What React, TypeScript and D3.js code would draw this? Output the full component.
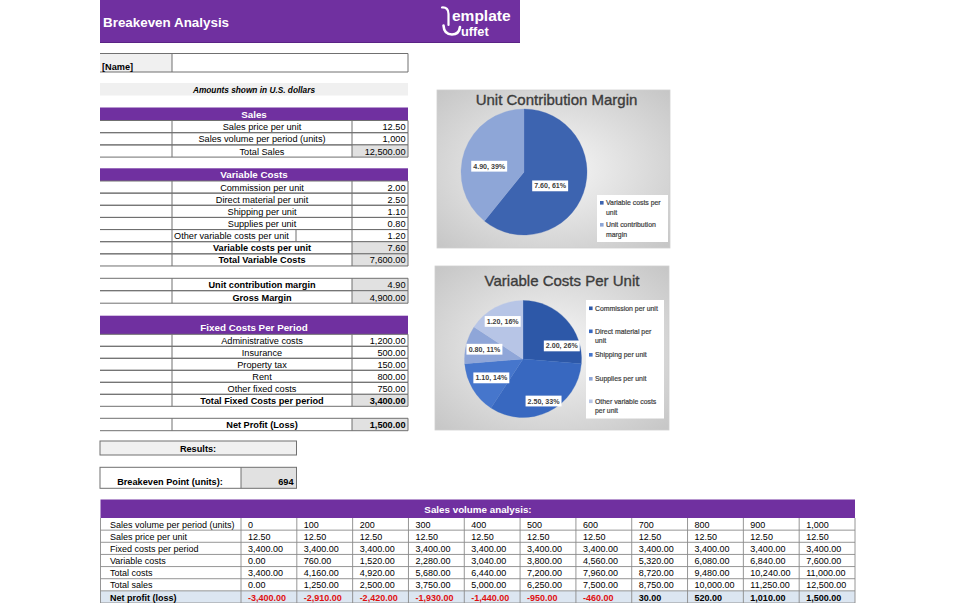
import React from "react";
import * as d3 from "d3";

// ---------- data ----------
const titleText = "Breakeven Analysis";
const salesLabels = ["Sales price per unit", "Sales volume per period (units)", "Total Sales"];
const salesPrice = 12.5;
const salesVolume = 1000;
const variableLabels = [
  "Commission per unit",
  "Direct material per unit",
  "Shipping per unit",
  "Supplies per unit",
  "Other variable costs per unit",
];
const variableValues = [2.0, 2.5, 1.1, 0.8, 1.2];
const fixedLabels = ["Administrative costs", "Insurance", "Property tax", "Rent", "Other fixed costs"];
const fixedValues = [1200, 500, 150, 800, 750];
const volumeSteps = [0, 100, 200, 300, 400, 500, 600, 700, 800, 900, 1000];
const analysisLabels = [
  "Sales volume per period (units)",
  "Sales price per unit",
  "Fixed costs per period",
  "Variable costs",
  "Total costs",
  "Total sales",
  "Net profit (loss)",
];
const marginLegendLines = [["Variable costs per", "unit"], ["Unit contribution", "margin"]];
const costLegendLines = [
  ["Commission per unit"],
  ["Direct material per", "unit"],
  ["Shipping per unit"],
  ["Supplies per unit"],
  ["Other variable costs", "per unit"],
];

// ---------- formatting / derived ----------
const loc = d3.formatLocale({ decimal: ".", thousands: ",", grouping: [3], currency: ["$", ""], minus: "-" });
const f2 = loc.format(",.2f");
const f0 = loc.format(",.0f");

const varPerUnit = d3.sum(variableValues);
const totalSales = salesPrice * salesVolume;
const totalVar = varPerUnit * salesVolume;
const ucm = salesPrice - varPerUnit;
const gross = ucm * salesVolume;
const totalFixed = d3.sum(fixedValues);
const netProfit = gross - totalFixed;
const breakeven = totalFixed / ucm;

// ---------- style ----------
const FONT = "'Liberation Sans', Arial, sans-serif";
const CFONT = "'Liberation Sans', Arial, sans-serif";
const PURPLE = "#7030a0";
const LINE = "#707070";
const GREY = "#e1e1e1";
const C0 = 100, C1 = 172, C2 = 352, C3 = 408;
const FS = 9.2;

function TableRow(p: any) {
  const { y, h, label, value, boldLabel, boldValue, grey, leftAlign, divider } = p;
  return (
    <g>
      {grey && <rect x={C2} y={y} width={C3 - C2} height={h} fill={GREY} />}
      <line x1={C0} x2={C3} y1={y} y2={y} stroke={LINE} strokeWidth={1} />
      <line x1={C0} x2={C3} y1={y + h} y2={y + h} stroke={LINE} strokeWidth={1} />
      {[C1, C2, C3].map((x) => (
        <line key={x} x1={x} x2={x} y1={y} y2={y + h} stroke={LINE} strokeWidth={1} />
      ))}
      {divider && <line x1={divider} x2={divider} y1={y} y2={y + h} stroke={LINE} strokeWidth={1} />}
      <text
        x={leftAlign ? C1 + 2 : (C1 + C2) / 2}
        y={y + h - 2.6}
        textAnchor={leftAlign ? "start" : "middle"}
        fontSize={FS}
        fontWeight={boldLabel ? "bold" : "normal"}
        fill="#000"
      >
        {label}
      </text>
      <text x={C3 - 2.5} y={y + h - 2.6} textAnchor="end" fontSize={FS} fontWeight={boldValue ? "bold" : "normal"} fill="#000">
        {value}
      </text>
    </g>
  );
}

function Header({ y, h, text }: any) {
  return (
    <g>
      <rect x={C0} y={y} width={C3 - C0} height={h} fill={PURPLE} />
      <text x={(C0 + C3) / 2} y={y + h - 3} textAnchor="middle" fontSize={9.8} fontWeight="bold" fill="#fff">
        {text}
      </text>
    </g>
  );
}

function PieChart(p: any) {
  const { box, title, titleX, titleY, cx, cy, r, values, colors, labelPlace, legendBox, legendLines, legendYs, markerX, gradId } = p;
  const total = d3.sum(values as number[]);
  const arcs = d3.pie<number>().sort(null).value((d) => d)(values);
  const arcGen = d3.arc<d3.PieArcDatum<number>>().innerRadius(0).outerRadius(r);
  return (
    <g>
      <defs>
        <radialGradient id={gradId} cx="50%" cy="50%" r="70%">
          <stop offset="0%" stopColor="#f7f7f7" />
          <stop offset="100%" stopColor="#c6c6c6" />
        </radialGradient>
      </defs>
      <rect x={box[0]} y={box[1]} width={box[2]} height={box[3]} fill={`url(#${gradId})`} stroke="#d0d0d0" strokeWidth={0.8} />
      <text
        x={titleX}
        y={titleY}
        textAnchor="middle"
        fontFamily={CFONT}
        fontSize={15}
        fill="#3c3c3c"
        stroke="#3c3c3c"
        strokeWidth={0.35}
      >
        {title}
      </text>
      <g transform={`translate(${cx},${cy})`}>
        {arcs.map((a, i) => (
          <path key={i} d={arcGen(a) || ""} fill={colors[i]} stroke={colors[i]} strokeWidth={0.3} />
        ))}
        {arcs.map((a, i) => {
          const [rf, off] = labelPlace[i];
          const ang = (a.startAngle + a.endAngle) / 2 + (off * Math.PI) / 180;
          const lx = Math.sin(ang) * r * rf;
          const ly = -Math.cos(ang) * r * rf;
          const txt = `${f2(values[i])}, ${Math.round((values[i] / total) * 100)}%`;
          const w = txt.length * 3.55 + 4;
          return (
            <g key={"l" + i}>
              <rect x={lx - w / 2} y={ly - 5.4} width={w} height={10.8} fill="#fff" />
              <text x={lx} y={ly + 2.5} textAnchor="middle" fontFamily={CFONT} fontSize={7.1} fontWeight="bold" fill="#404040">
                {txt}
              </text>
            </g>
          );
        })}
      </g>
      <rect x={legendBox[0]} y={legendBox[1]} width={legendBox[2]} height={legendBox[3]} fill="#fff" />
      {legendLines.map((lines: string[], i: number) => (
        <g key={"g" + i}>
          <rect x={markerX} y={legendYs[i] - 2} width={3.6} height={3.6} fill={colors[i]} />
          {lines.map((ln, j) => (
            <text
              key={j}
              x={markerX + 6}
              y={legendYs[i] + 2.4 + j * 9.3}
              fontFamily={CFONT}
              fontSize={6.9}
              fill="#404040"
              stroke="#404040"
              strokeWidth={0.2}
            >
              {ln}
            </text>
          ))}
        </g>
      ))}
    </g>
  );
}

export default function App() {
  const salesRowsY = [120.5, 132.7, 144.9];
  const salesVals = [f2(salesPrice), f0(salesVolume), f2(totalSales)];

  const varY0 = 181;
  const varH = 12.14;

  const fixY0 = 334.3;
  const fixH = 12;

  // Bottom table scales
  const colX = d3.scaleBand<number>().domain(volumeSteps).range([241, 855]).paddingInner(0).paddingOuter(0);
  const rowY = d3.scaleBand<string>().domain(analysisLabels).range([518, 603]).padding(0);
  const analysisRows = volumeSteps.map((v) => {
    const vc = v * varPerUnit;
    const tc = totalFixed + vc;
    const ts = v * salesPrice;
    return [f0(v), f2(salesPrice), f2(totalFixed), f2(vc), f2(tc), f2(ts), f2(ts - tc)];
  });
  const netVals = volumeSteps.map((v) => v * salesPrice - totalFixed - v * varPerUnit);

  const marginValues = [varPerUnit, ucm];

  return (
    <div style={{ position: "absolute", left: 0, top: 0 }}>
      <svg width={955} height={603} viewBox="0 0 955 603" fontFamily={FONT} style={{ display: "block", background: "#fff" }}>
        <rect x={0} y={0} width={955} height={603} fill="#fff" />
        {/* Title bar */}
        <rect x={100} y={0} width={420} height={43} fill={PURPLE} />
        <line x1={100} x2={520} y1={42.5} y2={42.5} stroke="#5a2385" />
        <text x={103} y={27} fontSize={13.4} fontWeight="bold" fill="#fff">
          {titleText}
        </text>
        {/* logo */}
        <g fill="none" stroke="#fff" strokeLinecap="round">
          <path d="M442,7.5 Q448.5,7 448.5,14 L448.5,25" strokeWidth={2.2} />
          <path d="M443.5,25.5 Q444,34.5 452,34.5 Q459,34.5 460,27" strokeWidth={2.6} />
        </g>
        <text fontWeight="bold" fill="#fff">
          <tspan x={452} y={21} fontSize={15.5} letterSpacing={0}>
            emplate
          </tspan>
          <tspan x={461} y={36} fontSize={12.8} letterSpacing={0}>
            uffet
          </tspan>
        </text>

        {/* Name row */}
        <rect x={C0} y={53.5} width={C1 - C0} height={18.5} fill="#f0f0f0" />
        <line x1={C0} x2={C3} y1={53.5} y2={53.5} stroke={LINE} />
        <line x1={C0} x2={C3} y1={72} y2={72} stroke={LINE} />
        <line x1={C1} x2={C1} y1={53.5} y2={72} stroke={LINE} />
        <line x1={C3} x2={C3} y1={53.5} y2={72} stroke={LINE} />
        <text x={102} y={69.5} fontSize={FS} fontWeight="bold">
          [Name]
        </text>

        {/* Amounts row */}
        <rect x={C0} y={83} width={C3 - C0} height={12.5} fill="#f0f0f0" />
        <text x={(C0 + C3) / 2} y={92.8} textAnchor="middle" fontSize={8.3} fontWeight="bold" fontStyle="italic">
          Amounts shown in U.S. dollars
        </text>

        {/* Sales */}
        <Header y={107.5} h={13} text="Sales" />
        {salesLabels.map((l, i) => (
          <TableRow key={l} y={salesRowsY[i]} h={12.2} label={l} value={salesVals[i]} grey={i === 2} />
        ))}

        {/* Variable costs */}
        <Header y={168.3} h={12.7} text="Variable Costs" />
        {variableLabels.map((l, i) => (
          <TableRow
            key={l}
            y={varY0 + i * varH}
            h={varH}
            label={l}
            value={f2(variableValues[i])}
            leftAlign={i === 4}
            divider={i === 4 ? 296 : undefined}
          />
        ))}
        <TableRow y={varY0 + 5 * varH} h={varH} label="Variable costs per unit" value={f2(varPerUnit)} boldLabel grey />
        <TableRow y={varY0 + 6 * varH} h={varH} label="Total Variable Costs" value={f2(totalVar)} boldLabel grey />

        {/* Contribution */}
        <TableRow y={278.3} h={12.4} label="Unit contribution margin" value={f2(ucm)} boldLabel grey />
        <TableRow y={290.7} h={12.5} label="Gross Margin" value={f2(gross)} boldLabel grey />

        {/* Fixed costs */}
        <Header y={315.7} h={18.6} text="Fixed Costs Per Period" />
        {fixedLabels.map((l, i) => (
          <TableRow key={l} y={fixY0 + i * fixH} h={fixH} label={l} value={f2(fixedValues[i])} />
        ))}
        <TableRow y={fixY0 + 5 * fixH} h={fixH} label="Total Fixed Costs per period" value={f2(totalFixed)} boldLabel boldValue grey />

        {/* Net profit */}
        <TableRow y={418.3} h={12.4} label="Net Profit (Loss)" value={f2(netProfit)} boldLabel boldValue grey />

        {/* Results */}
        <rect x={C0} y={441} width={196.5} height={14} fill="#f0f0f0" stroke={LINE} />
        <text x={198} y={451.5} textAnchor="middle" fontSize={FS} fontWeight="bold">
          Results:
        </text>

        {/* Breakeven */}
        <rect x={241} y={467.3} width={55.5} height={21} fill={GREY} />
        <rect x={C0} y={467.3} width={196.5} height={21} fill="none" stroke={LINE} />
        <line x1={241} x2={241} y1={467.3} y2={488.3} stroke={LINE} />
        <text x={170} y={485} textAnchor="middle" fontSize={FS} fontWeight="bold">
          Breakeven Point (units):
        </text>
        <text x={293.5} y={485} textAnchor="end" fontSize={FS} fontWeight="bold">
          {f0(breakeven)}
        </text>

        {/* Sales volume analysis */}
        <rect x={100.5} y={499.5} width={754.5} height={18.5} fill={PURPLE} />
        <text x={478} y={513} textAnchor="middle" fontSize={9.8} fontWeight="bold" fill="#fff">
          Sales volume analysis:
        </text>
        <rect x={100.5} y={rowY("Net profit (loss)")!} width={754.5} height={rowY.bandwidth()} fill="#dce6f1" />
        {analysisLabels.map((l, ri) => {
          const y = rowY(l)!;
          const h = rowY.bandwidth();
          const isNet = ri === analysisLabels.length - 1;
          return (
            <g key={l}>
              <line x1={100.5} x2={855} y1={y + h} y2={y + h} stroke="#8a8a8a" strokeWidth={0.9} />
              <text x={110} y={y + h - 2.4} fontSize={9} fontWeight={isNet ? "bold" : "normal"} fill="#000">
                {l}
              </text>
              {volumeSteps.map((v, ci) => (
                <text
                  key={v}
                  x={colX(v)! + 7}
                  y={y + h - 2.4}
                  fontSize={9}
                  fontWeight={isNet ? "bold" : "normal"}
                  fill={isNet && netVals[ci] < 0 ? "#e01010" : "#000"}
                >
                  {analysisRows[ci][ri]}
                </text>
              ))}
            </g>
          );
        })}
        {[100.5, ...volumeSteps.map((v) => colX(v)!), 855].map((x, i) => (
          <line key={"v" + i} x1={x} x2={x} y1={518} y2={603} stroke="#8a8a8a" strokeWidth={0.9} />
        ))}

        {/* Charts */}
        <PieChart
          gradId="g1"
          box={[437, 90, 233, 158]}
          title="Unit Contribution Margin"
          titleX={556.5}
          titleY={105}
          cx={524}
          cy={172}
          r={63}
          values={marginValues}
          colors={["#3d64b0", "#8ea6d7"]}
          labelPlace={[[0.47, 8.5], [0.56, -10]]}
          legendBox={[597, 195, 71, 47]}
          legendLines={marginLegendLines}
          legendYs={[203, 225]}
          markerX={600}
        />
        <PieChart
          gradId="g2"
          box={[435, 266, 234, 164]}
          title="Variable Costs Per Unit"
          titleX={562}
          titleY={286}
          cx={523}
          cy={359}
          r={58.5}
          values={variableValues}
          colors={["#2d58a8", "#3868c0", "#4676cc", "#8fa6d8", "#b7c5e6"]}
          labelPlace={[[0.7, 24], [0.8, 0], [0.63, 0], [0.68, 0], [0.73, 0]]}
          legendBox={[586, 300, 78, 118.5]}
          legendLines={costLegendLines}
          legendYs={[308.5, 331.5, 355, 379, 401.5]}
          markerX={589}
        />
      </svg>
    </div>
  );
}
